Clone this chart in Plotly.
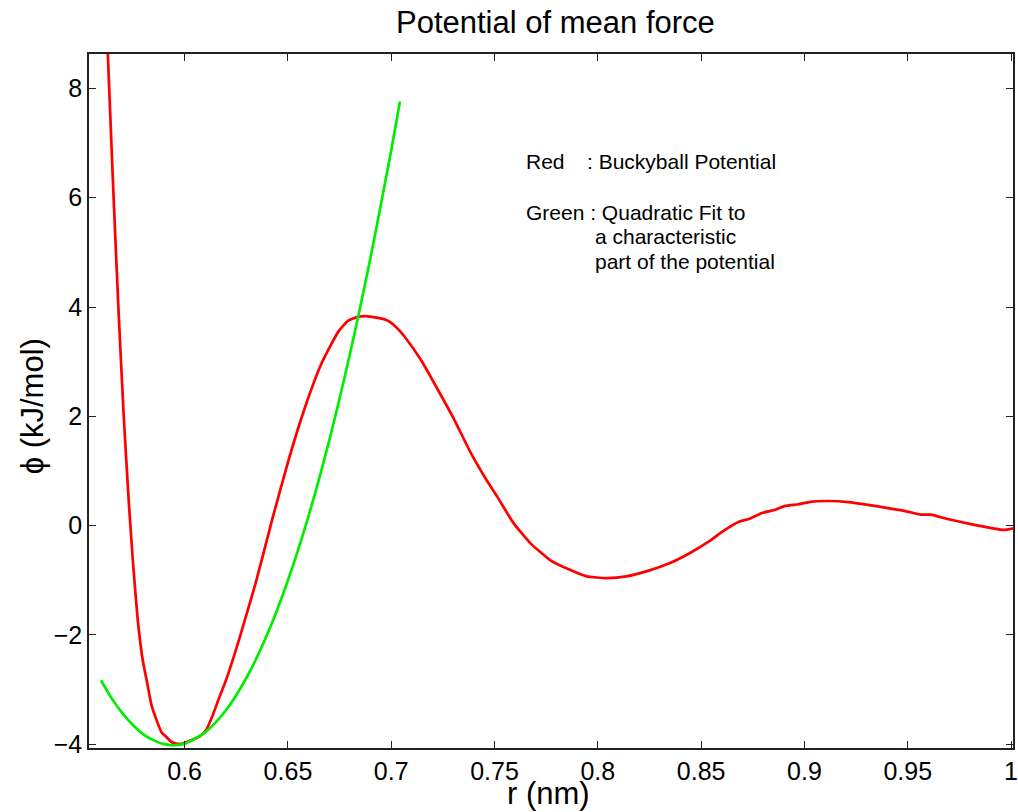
import plotly.graph_objects as go

# Red: Buckyball potential (r in nm, phi in kJ/mol)
red_r = [0.5620, 0.5628, 0.5652, 0.5679, 0.5705, 0.5729, 0.5749, 0.5773, 0.5797, 0.5816,
         0.5840, 0.5864, 0.5888, 0.5912, 0.5936, 0.5960, 0.5989, 0.6023, 0.6071, 0.6104,
         0.6133, 0.6167, 0.6200, 0.6263, 0.6343, 0.6423, 0.6503, 0.6584, 0.6663, 0.6744,
         0.6792, 0.6840, 0.6888, 0.6936, 0.6970, 0.7000, 0.7032, 0.7064, 0.7144, 0.7225,
         0.7305, 0.7385, 0.7465, 0.7513, 0.7593, 0.7673, 0.7769, 0.7865, 0.7946, 0.8042,
         0.8138, 0.8250, 0.8346, 0.8442, 0.8538, 0.8603, 0.8683, 0.8731, 0.8795, 0.8859,
         0.8907, 0.8971, 0.9036, 0.9115, 0.9212, 0.9308, 0.9404, 0.9484, 0.9564, 0.9612,
         0.9692, 0.9789, 0.9869, 0.9965, 1.0010]
red_phi = [9.30, 8.64, 6.37, 4.01, 2.01, 0.47, -0.63, -1.73, -2.46, -2.83,
           -3.29, -3.56, -3.78, -3.87, -3.96, -3.99, -3.99, -3.94, -3.86, -3.74,
           -3.50, -3.15, -2.83, -2.09, -1.06, 0.10, 1.20, 2.18, 2.97, 3.55,
           3.75, 3.82, 3.83, 3.80, 3.77, 3.71, 3.60, 3.46, 3.03, 2.49,
           1.94, 1.33, 0.81, 0.53, 0.04, -0.32, -0.63, -0.81, -0.93, -0.96,
           -0.93, -0.82, -0.69, -0.51, -0.29, -0.11, 0.07, 0.12, 0.23, 0.29,
           0.36, 0.39, 0.44, 0.45, 0.43, 0.38, 0.32, 0.27, 0.20, 0.20,
           0.12, 0.04, -0.02, -0.08, -0.05]

# Green: quadratic fit
green_r = [0.5595, 0.565, 0.570, 0.575, 0.580, 0.585, 0.590, 0.595, 0.600, 0.610,
           0.620, 0.630, 0.640, 0.650, 0.660, 0.670, 0.680, 0.690, 0.700, 0.7042]
green_phi = [-2.83, -3.18, -3.44, -3.65, -3.82, -3.93, -4.00, -4.02, -3.99, -3.78,
             -3.38, -2.78, -1.99, -1.00, 0.18, 1.56, 3.14, 4.91, 6.87, 7.76]

x_ticks = [0.6, 0.65, 0.7, 0.75, 0.8, 0.85, 0.9, 0.95, 1.0]
x_tick_labels = ["0.6", "0.65", "0.7", "0.75", "0.8", "0.85", "0.9", "0.95", "1"]
y_ticks = [-4, -2, 0, 2, 4, 6, 8]

W, H = 1018, 812
L, R, T, B = 89, 0, 54, 64
PW, PH = W - L - R, H - T - B


def px(xp):
    return (xp - L) / PW


def py(yp):
    return (H - B - yp) / PH


FONT = "Liberation Sans, Arial, Helvetica, sans-serif"

fig = go.Figure()
fig.add_trace(go.Scatter(x=red_r, y=red_phi, mode="lines",
                         line=dict(color="#ff0000", width=2.7, shape="spline", smoothing=0.5),
                         showlegend=False))
fig.add_trace(go.Scatter(x=green_r, y=green_phi, mode="lines",
                         line=dict(color="#00ee00", width=2.7, shape="spline", smoothing=0.8),
                         showlegend=False))

axis_common = dict(showline=True, mirror="ticks", linecolor="#222222", linewidth=1.5,
                   ticks="inside", ticklen=7, tickwidth=1, tickcolor="#222222",
                   showgrid=False, zeroline=False, ticklabeloverflow="allow",
                   tickfont=dict(family=FONT, size=25, color="#000000"))

fig.update_layout(
    width=W, height=H,
    margin=dict(l=L, r=R, t=T, b=B),
    paper_bgcolor="white", plot_bgcolor="white",
    xaxis=dict(range=[0.5537, 1.00096], tickvals=x_ticks, ticktext=x_tick_labels, **axis_common),
    yaxis=dict(range=[-4.07, 8.63], tickvals=y_ticks, **axis_common),
    font=dict(family=FONT, color="#000000"),
)

annotations = [
    dict(text="Potential of mean force", x=px(558), y=py(22), size=31, xanchor="center", yanchor="middle"),
    dict(text="r (nm)", x=px(551), y=py(812), size=31, xanchor="center", yanchor="bottom"),
    dict(text="Red", x=px(527), y=py(162), size=21, xanchor="left", yanchor="middle"),
    dict(text=": Buckyball Potential", x=px(589), y=py(162), size=21, xanchor="left", yanchor="middle"),
    dict(text="Green : Quadratic Fit to", x=px(527), y=py(212), size=21, xanchor="left", yanchor="middle"),
    dict(text="a characteristic", x=px(597), y=py(237), size=21, xanchor="left", yanchor="middle"),
    dict(text="part of the potential", x=px(597), y=py(261), size=21, xanchor="left", yanchor="middle"),
]
for a in annotations:
    fig.add_annotation(text=a["text"], x=a["x"], y=a["y"], xref="paper", yref="paper",
                       xanchor=a["xanchor"], yanchor=a["yanchor"], showarrow=False,
                       borderpad=0,
                       font=dict(family=FONT, size=a["size"], color="#000000"))

fig.add_annotation(text="ϕ (kJ/mol)", x=px(32), y=py(406), xref="paper", yref="paper",
                   xanchor="center", yanchor="middle", showarrow=False, textangle=-90,
                   font=dict(family=FONT, size=31, color="#000000"))

fig.write_html("out.html")
